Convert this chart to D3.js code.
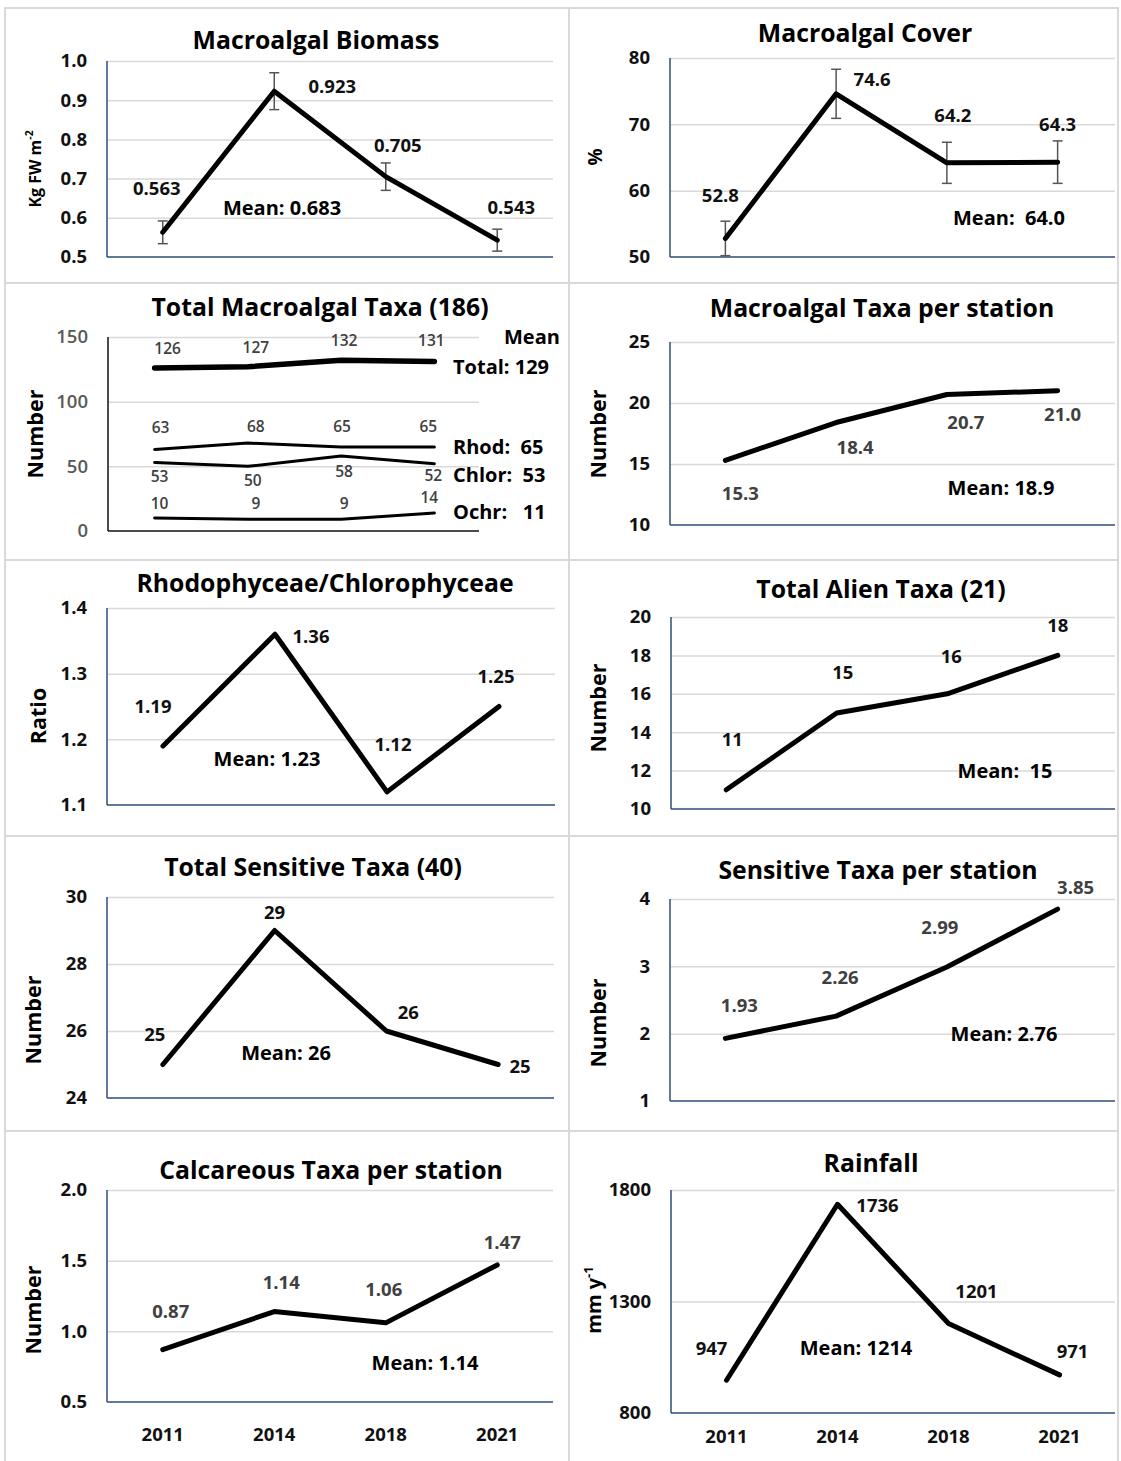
<!DOCTYPE html>
<html>
<head>
<meta charset="utf-8">
<script src="https://cdn.jsdelivr.net/npm/d3@7"></script>
<style>
  body { margin: 0; background: #fff; }
  svg text { font-family: "Open Sans", Lato, sans-serif; font-weight: 700; white-space: pre; }
</style>
</head>
<body>
<svg id="chart" width="1121" height="1461"></svg>
<script>
// ---- data ----
const years = ["2011", "2014", "2018", "2021"];

const biomass = [0.563, 0.923, 0.705, 0.543];
const biomassErr = [0.029, 0.047, 0.035, 0.028];
const cover = [52.8, 74.6, 64.2, 64.3];
const coverErr = [2.6, 3.7, 3.1, 3.2];

const taxaTotal = [126, 127, 132, 131];
const taxaRhod = [63, 68, 65, 65];
const taxaChlor = [53, 50, 58, 52];
const taxaOchr = [10, 9, 9, 14];
const taxaMeans = ["Mean", "Total: 129", "Rhod:  65", "Chlor:  53", "Ochr:   11"];

const taxaPerStation = [15.3, 18.4, 20.7, 21.0];
const rhodChlorRatio = [1.19, 1.36, 1.12, 1.25];
const alienTaxa = [11, 15, 16, 18];
const sensitiveTaxa = [25, 29, 26, 25];
const sensitivePerStation = [1.93, 2.26, 2.99, 3.85];
const calcareousPerStation = [0.87, 1.14, 1.06, 1.47];
const rainfall = [947, 1736, 1201, 971];

const biomassTicks = [0.5, 0.6, 0.7, 0.8, 0.9, 1.0];
const coverTicks = [50, 60, 70, 80];
const taxaTicks = [0, 50, 100, 150];
const perStationTicks = [10, 15, 20, 25];
const ratioTicks = [1.1, 1.2, 1.3, 1.4];
const alienTicks = [10, 12, 14, 16, 18, 20];
const sensitiveTicks = [24, 26, 28, 30];
const sensPerStationTicks = [1, 2, 3, 4];
const calcTicks = [0.5, 1.0, 1.5, 2.0];
const rainTicks = [800, 1300, 1800];

// ---- layout ----
const svg = d3.select("#chart");
const AXIS = "#2f4b7c", GRID = "#d9d9d9";

// panel frames
const colX = [[5, 569], [569, 1118]];
const rowY = [[8, 283], [283, 560], [560, 836], [836, 1131], [1131, 1475]];
rowY.forEach(r => colX.forEach(c => {
  svg.append("rect").attr("x", c[0]).attr("y", r[0])
    .attr("width", c[1] - c[0]).attr("height", r[1] - r[0])
    .attr("fill", "none").attr("stroke", GRID).attr("stroke-width", 2);
}));

const L = { x0: 107, x1: 553 }, R = { x0: 670, x1: 1113 };

const panels = [
  { col: L, yTop: 61, yBot: 257, gridR: 553, domain: [0.5, 1.0], ticks: biomassTicks, tf: ".1f",
    title: "Macroalgal Biomass", tpos: [316, 40], ylab: ["Kg FW m", "-2"], ysize: 16, ypos: [35, 169],
    series: [{ v: biomass, err: biomassErr, w: 5, fmt: ".3f",
      off: [[-6, -44], [58, -5], [12, -31], [14, -33]] }],
    lc: "#111", mean: "Mean: 0.683", mpos: [282, 208] },
  { col: R, yTop: 58, yBot: 257, gridR: 1115, domain: [50, 80], ticks: coverTicks, tf: "d",
    title: "Macroalgal Cover", tpos: [865, 33], ylab: ["%"], ysize: 19, ypos: [595, 157],
    series: [{ v: cover, err: coverErr, w: 5, fmt: ".1f",
      off: [[-5, -43], [36, -14], [6, -47], [0, -38]] }],
    lc: "#111", mean: "Mean:  64.0", mpos: [1009, 218] },
  { col: { x0: 108, x1: 481 }, yTop: 337, yBot: 531, gridR: 479, domain: [0, 150], ticks: taxaTicks, tf: "d",
    tickColor: "#595959", axisColor: "#111", labSize: 15.5,
    title: "Total Macroalgal Taxa (186)", tpos: [320, 307], ylab: ["Number"], ypos: [35, 434],
    series: [
      { v: taxaTotal, w: 5.5, fmt: "d", off: [[13, -19], [8, -19], [3, -20], [-3, -21]] },
      { v: taxaRhod, w: 3, fmt: "d", off: [[6, -22], [8, -16], [1, -20], [-6, -20]] },
      { v: taxaChlor, w: 3, fmt: "d", off: [[5, 14], [5, 14], [3, 16], [-1, 12]] },
      { v: taxaOchr, w: 3, fmt: "d", off: [[5, -14], [8, -16], [3, -16], [-5, -15]] }],
    lc: "#404040" },
  { col: R, yTop: 342, yBot: 525, gridR: 1115, domain: [10, 25], ticks: perStationTicks, tf: "d",
    title: "Macroalgal Taxa per station", tpos: [882, 308], ylab: ["Number"], ypos: [598, 434],
    series: [{ v: taxaPerStation, w: 5, fmt: ".1f",
      off: [[15, 33], [19, 25], [19, 28], [5, 24]] }],
    lc: "#404040", mean: "Mean: 18.9", mpos: [1001, 488] },
  { col: { x0: 107, x1: 555 }, yTop: 608, yBot: 805, gridR: 555, domain: [1.1, 1.4], ticks: ratioTicks, tf: ".1f",
    title: "Rhodophyceae/Chlorophyceae", tpos: [325, 583], ylab: ["Ratio"], ypos: [38, 716],
    series: [{ v: rhodChlorRatio, w: 5, fmt: ".2f",
      off: [[-10, -39], [36, 2], [6, -47], [-3, -30]] }],
    lc: "#111", mean: "Mean: 1.23", mpos: [267, 759] },
  { col: { x0: 671, x1: 1113 }, yTop: 617, yBot: 809, gridR: 1115, domain: [10, 20], ticks: alienTicks, tf: "d",
    title: "Total Alien Taxa (21)", tpos: [881, 589], ylab: ["Number"], ypos: [598, 708],
    series: [{ v: alienTaxa, w: 5, fmt: "d",
      off: [[6, -50], [6, -40], [4, -37], [0, -30]] }],
    lc: "#111", mean: "Mean:  15", mpos: [1005, 771] },
  { col: { x0: 107, x1: 554 }, yTop: 897, yBot: 1098, gridR: 554, domain: [24, 30], ticks: sensitiveTicks, tf: "d",
    title: "Total Sensitive Taxa (40)", tpos: [313, 867], ylab: ["Number"], ypos: [33, 1020],
    series: [{ v: sensitiveTaxa, w: 5, fmt: "d",
      off: [[-8, -30], [0, -18], [22, -18], [22, 2]] }],
    lc: "#111", mean: "Mean: 26", mpos: [286, 1053] },
  { col: R, yTop: 899, yBot: 1101, gridR: 1115, domain: [1, 4], ticks: sensPerStationTicks, tf: "d",
    title: "Sensitive Taxa per station", tpos: [878, 870], ylab: ["Number"], ypos: [598, 1023],
    series: [{ v: sensitivePerStation, w: 5, fmt: ".2f",
      off: [[14, -33], [4, -39], [-7, -39], [18, -22]] }],
    lc: "#404040", mean: "Mean: 2.76", mpos: [1004, 1034] },
  { col: L, yTop: 1190, yBot: 1402, gridR: 553, domain: [0.5, 2.0], ticks: calcTicks, tf: ".1f",
    title: "Calcareous Taxa per station", tpos: [331, 1170], ylab: ["Number"], ypos: [33, 1310],
    series: [{ v: calcareousPerStation, w: 5, fmt: ".2f",
      off: [[8, -38], [7, -29], [-2, -33], [5, -22]] }],
    lc: "#404040", mean: "Mean: 1.14", mpos: [425, 1363], xlabY: 1435 },
  { col: { x0: 671, x1: 1115 }, yTop: 1190, yBot: 1413, gridR: 1115, domain: [800, 1800], ticks: rainTicks, tf: "d",
    title: "Rainfall", tpos: [871, 1163], ylab: ["mm y", "-1"], ysize: 20, ypos: [594, 1300],
    series: [{ v: rainfall, w: 5, fmt: "d",
      off: [[-15, -32], [40, 1], [28, -32], [13, -23]] }],
    lc: "#111", mean: "Mean: 1214", mpos: [856, 1348], xlabY: 1437 }
];

function drawPanel(p) {
  const g = svg.append("g");
  const x = d3.scaleBand().domain(years).range([p.col.x0, p.col.x1]);
  const y = d3.scaleLinear().domain(p.domain).range([p.yBot, p.yTop]);
  const cx = yr => x(yr) + x.bandwidth() / 2;
  const x0 = p.col.x0;

  // gridlines
  g.append("g").attr("transform", `translate(${x0},0)`)
    .call(d3.axisLeft(y).tickValues(p.ticks.slice(1)).tickSize(-(p.gridR - x0)).tickFormat(""))
    .call(a => a.select(".domain").remove())
    .call(a => a.selectAll("line").attr("stroke", GRID).attr("stroke-width", 1.5));

  // y tick labels
  g.append("g").attr("transform", `translate(${x0},0)`)
    .call(d3.axisLeft(y).tickValues(p.ticks).tickSize(0).tickPadding(20).tickFormat(d3.format(p.tf)))
    .call(a => a.select(".domain").remove())
    .call(a => a.selectAll("text")
      .attr("fill", p.tickColor || "#111")
      .style("font-size", "18.5px")
      .style("font-weight", p.tickColor ? 600 : 700)
      .style("font-family", "'Open Sans', sans-serif"));

  // axis lines
  const ac = p.axisColor || AXIS;
  g.append("line").attr("x1", x0).attr("x2", x0).attr("y1", p.yTop).attr("y2", p.yBot)
    .attr("stroke", ac).attr("stroke-width", 1.5);
  g.append("line").attr("x1", x0).attr("x2", p.gridR).attr("y1", p.yBot).attr("y2", p.yBot)
    .attr("stroke", ac).attr("stroke-width", 1.5);

  // title
  g.append("text").attr("x", p.tpos[0]).attr("y", p.tpos[1]).attr("dy", "0.35em")
    .attr("text-anchor", "middle").style("font-size", "24.8px").attr("fill", "#000").text(p.title);

  // y axis title
  const yt = g.append("text")
    .attr("transform", `translate(${p.ypos[0]},${p.ypos[1]}) rotate(-90)`)
    .attr("text-anchor", "middle").attr("dy", "0.35em")
    .style("font-size", (p.ysize || 21.5) + "px").attr("fill", "#000");
  yt.append("tspan").text(p.ylab[0]);
  if (p.ylab[1]) yt.append("tspan").attr("dy", -8).style("font-size", "0.65em").text(p.ylab[1]);

  const line = d3.line().x((d, i) => cx(years[i])).y(d => y(d));

  p.series.forEach(s => {
    // error bars
    if (s.err) {
      const eb = g.append("g").attr("stroke", "#555").attr("stroke-width", 1.5);
      s.v.forEach((v, i) => {
        const px = cx(years[i]), lo = y(v - s.err[i]), hi = y(v + s.err[i]);
        eb.append("line").attr("x1", px).attr("x2", px).attr("y1", lo).attr("y2", hi);
        eb.append("line").attr("x1", px - 5).attr("x2", px + 5).attr("y1", lo).attr("y2", lo);
        eb.append("line").attr("x1", px - 5).attr("x2", px + 5).attr("y1", hi).attr("y2", hi);
      });
    }
    g.append("path").datum(s.v).attr("d", line)
      .attr("fill", "none").attr("stroke", "#000").attr("stroke-width", s.w)
      .attr("stroke-linejoin", "round").attr("stroke-linecap", "round");

    // data labels
    g.selectAll(null).data(s.v).join("text")
      .attr("x", (d, i) => cx(years[i]) + s.off[i][0])
      .attr("y", (d, i) => y(d) + s.off[i][1])
      .attr("dy", "0.35em").attr("text-anchor", "middle")
      .style("font-size", (p.labSize || 18.5) + "px")
      .style("font-weight", p.labSize ? 600 : 700)
      .attr("fill", p.lc).text(d => d3.format(s.fmt)(d));
  });

  if (p.mean) {
    g.append("text").attr("x", p.mpos[0]).attr("y", p.mpos[1]).attr("dy", "0.35em")
      .attr("text-anchor", "middle").style("font-size", "20px").attr("fill", "#000").text(p.mean);
  }

  if (p.xlabY) {
    g.selectAll(null).data(years).join("text")
      .attr("x", d => cx(d)).attr("y", p.xlabY).attr("dy", "0.35em")
      .attr("text-anchor", "middle").style("font-size", "18.5px").attr("fill", "#111").text(d => d);
  }
}

panels.forEach(drawPanel);

// legend of means in the taxa panel
const legendPos = [[504, 337], [453, 367], [453, 447], [453, 475], [453, 512]];
svg.append("g").selectAll("text").data(taxaMeans).join("text")
  .attr("x", (d, i) => legendPos[i][0]).attr("y", (d, i) => legendPos[i][1])
  .attr("dy", "0.35em").style("font-size", "20px").attr("fill", "#000").text(d => d);
</script>
</body>
</html>
